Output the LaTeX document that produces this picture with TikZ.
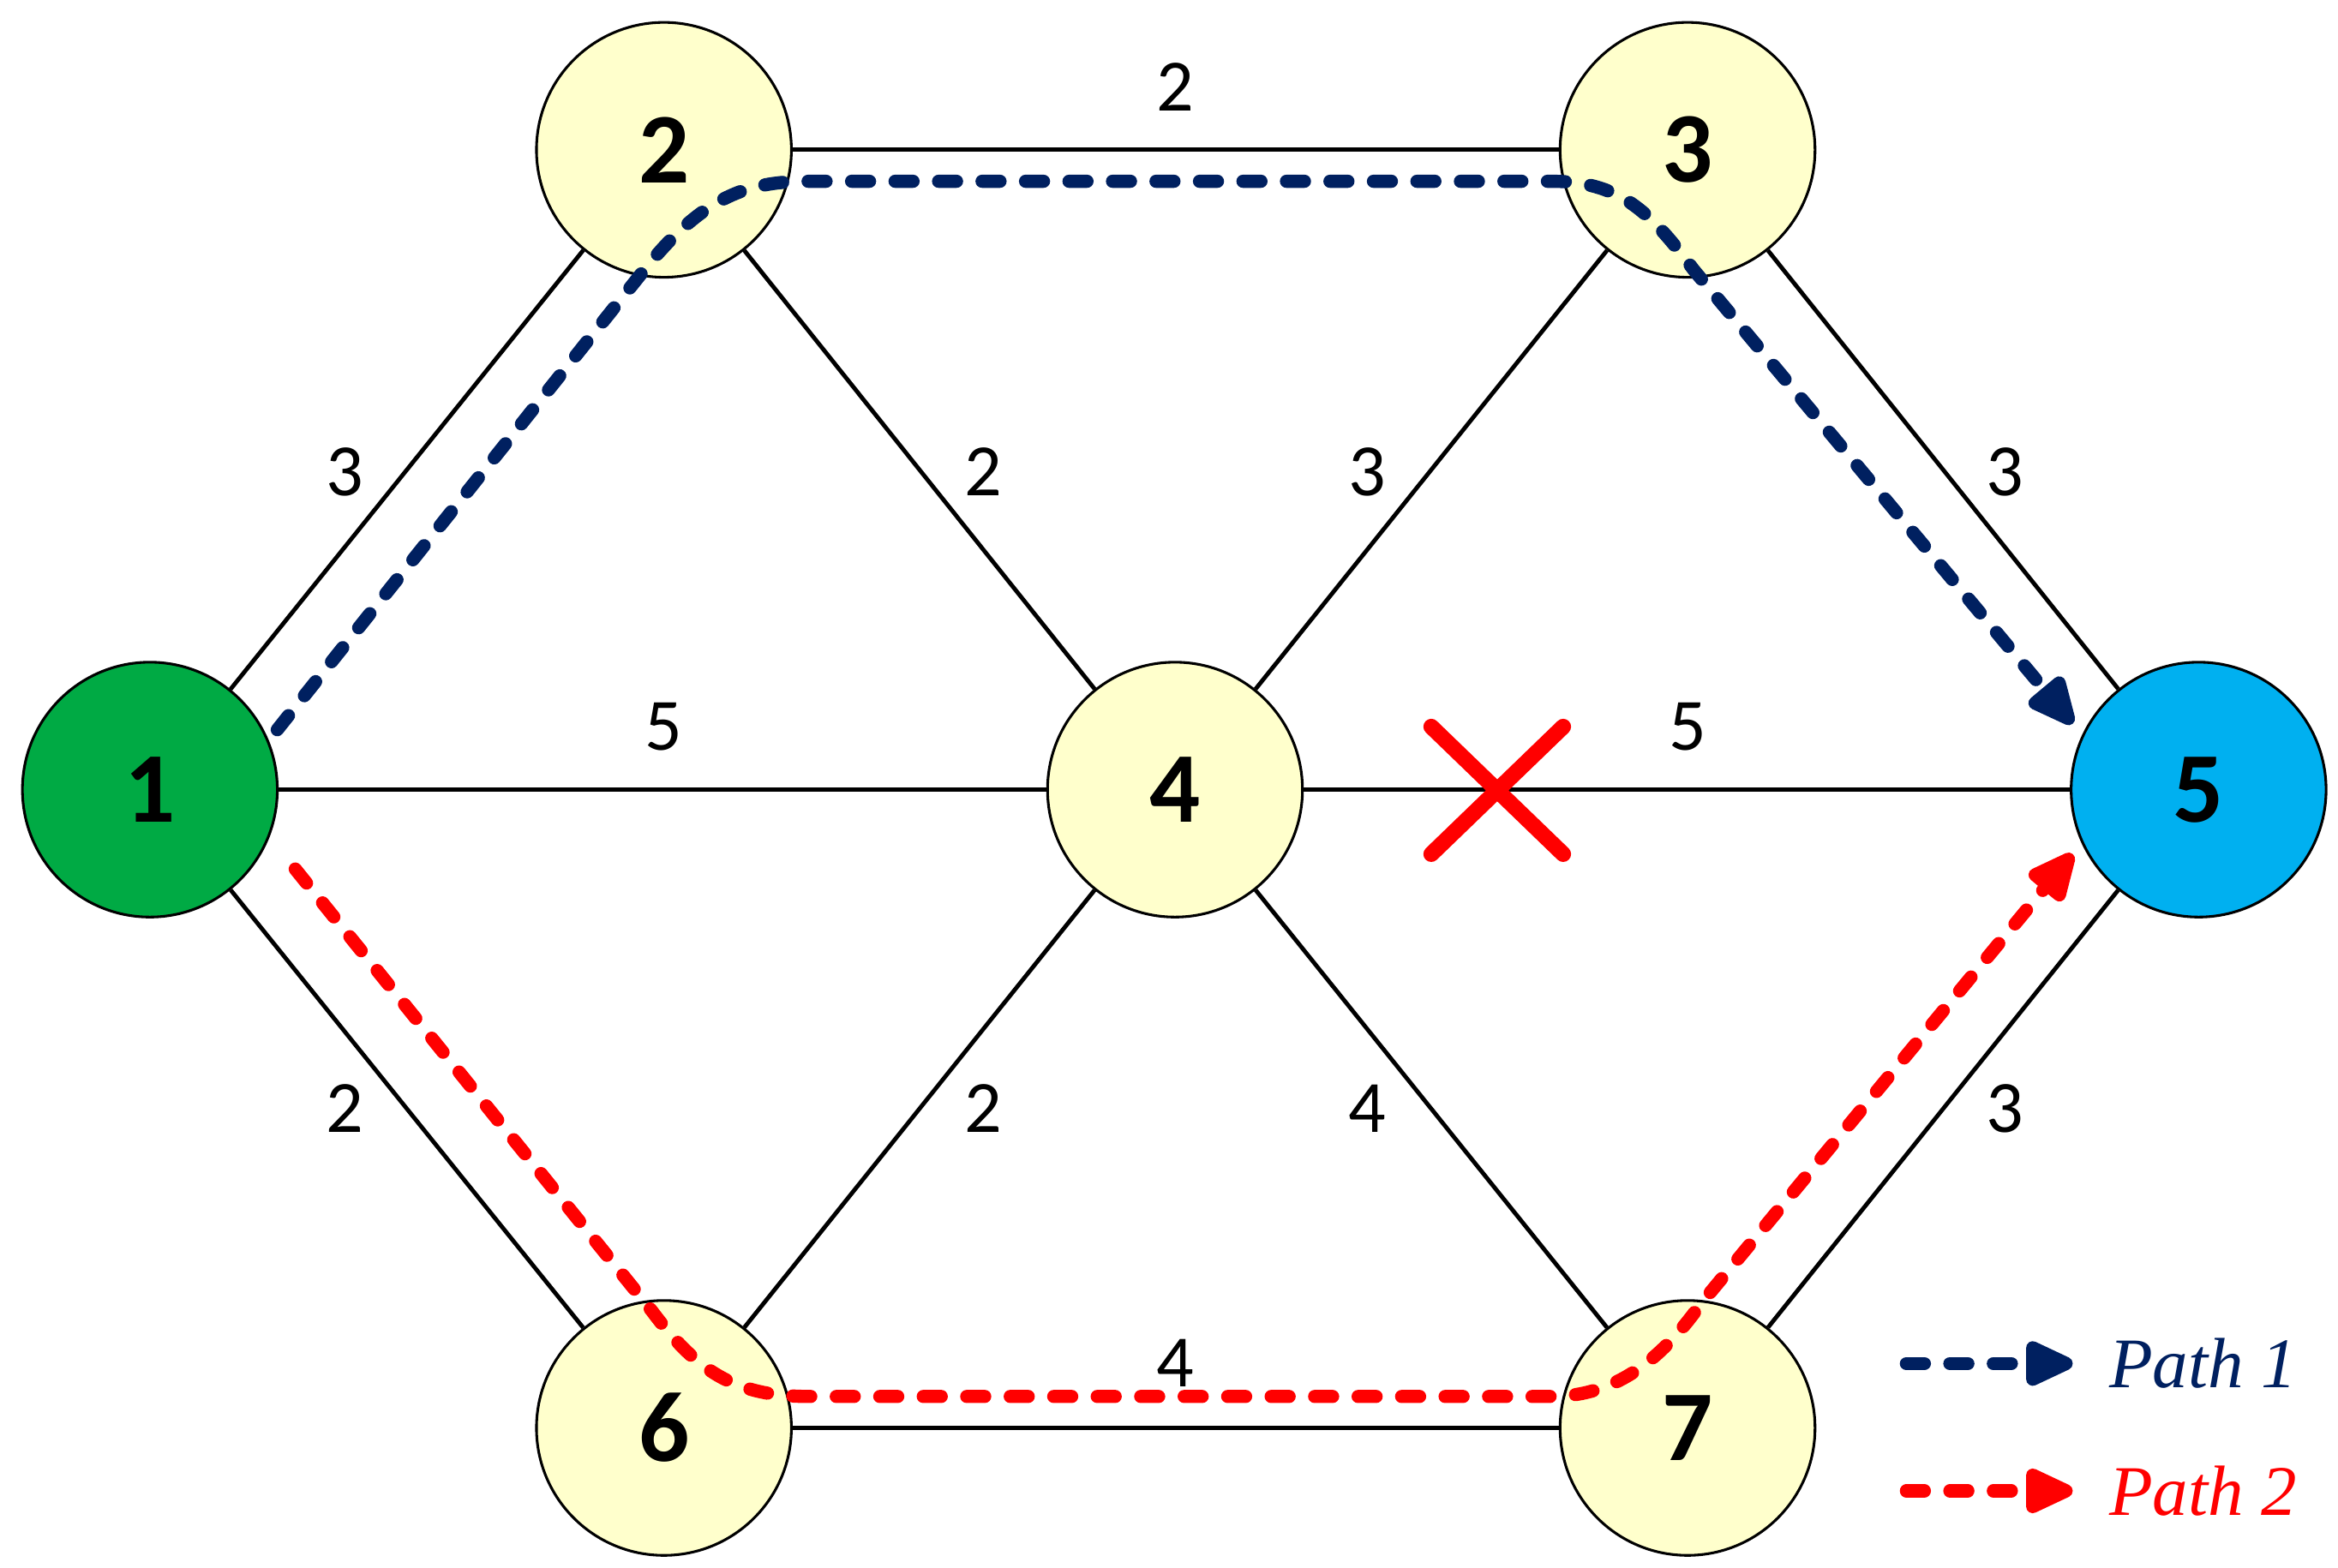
\documentclass[tikz,border=0pt]{standalone}
\usepackage{fontspec}
\setmainfont{Carlito}
\newfontfamily\lserif{Liberation Serif}
\usetikzlibrary{arrows.meta}
\definecolor{navy}{RGB}{0,32,96}
\definecolor{nodey}{RGB}{255,255,204}
\definecolor{ngreen}{RGB}{0,170,68}
\definecolor{nblue}{RGB}{0,176,240}
\begin{document}
\begin{tikzpicture}[x=0.01cm,y=-0.01cm,
  vert/.style={circle,draw=black,line width=0.5pt,minimum size=1.7cm,inner sep=0pt,font=\fontsize{19}{19}\selectfont\bfseries,fill=nodey},
  edge/.style={line width=0.8pt},
  lab/.style={font=\fontsize{14}{14}\selectfont},
  pth/.style={line width=2.5pt,dash pattern=on 0.12cm off 0.17cm,line cap=round,-{Triangle[length=0.38cm,width=0.32cm,round=false,line cap=butt]}}]
\useasboundingbox (0,0) rectangle (1560,1046);
\node[vert,fill=ngreen] (n1) at (100,527) {1};
\node[vert] (n2) at (443,100) {2};
\node[vert] (n3) at (1126,100) {3};
\node[vert] (n4) at (784,527) {4};
\node[vert,fill=nblue] (n5) at (1467,527) {5};
\node[vert] (n6) at (443,953) {6};
\node[vert] (n7) at (1126,953) {7};
\foreach \a/\b in {n1/n2,n1/n4,n1/n6,n2/n3,n2/n4,n3/n4,n3/n5,n4/n5,n4/n6,n4/n7,n5/n7,n6/n7}
  \draw[edge] (\a) -- (\b);
\node[lab] (l23) at (784,58) {2};
\node[lab] (l12) at (230,315) {3};
\node[lab] (l24) at (656,315) {2};
\node[lab] (l34) at (912,315) {3};
\node[lab] (l35) at (1338,315) {3};
\node[lab] (l14) at (443,485) {5};
\node[lab] (l45) at (1126,485) {5};
\node[lab] (l16) at (230,740) {2};
\node[lab] (l46) at (656,740) {2};
\node[lab] (l47) at (912,740) {4};
\node[lab] (l57) at (1338,740) {3};
\node[lab] (l67) at (784,910) {4};
\coordinate (x1) at (955,485); \coordinate (x2) at (1043,570);
\coordinate (x3) at (1043,485); \coordinate (x4) at (955,570);
\draw[red,line width=3pt,line cap=round] (x1) -- (x2) (x3) -- (x4);
\coordinate (p1s) at (185,487); \coordinate (p1e) at (1383,483);
\draw[pth,navy] (p1s) -- (430,180) .. controls (470,130) and (500,121) .. (540,121) -- (1035,121) .. controls (1080,121) and (1100,140) .. (1130,180) -- (p1e);
\coordinate (p2s) at (197,580); \coordinate (p2e) at (1383,570);
\draw[pth,red] (p2s) -- (435,875) .. controls (465,915) and (490,932) .. (540,932) -- (1035,932) .. controls (1080,932) and (1110,905) .. (1135,870) -- (p2e);
\coordinate (g1a) at (1272,910); \coordinate (g1b) at (1383,910);
\coordinate (g2a) at (1272,995); \coordinate (g2b) at (1383,995);
\draw[pth,navy] (g1a) -- (g1b);
\draw[pth,red] (g2a) -- (g2b);
\node[anchor=west,text=navy,font=\lserif\itshape\fontsize{13.5}{13.5}\selectfont] (t1) at (1395,910) {Path 1};
\node[anchor=west,text=red,font=\lserif\itshape\fontsize{13.5}{13.5}\selectfont] (t2) at (1395,995) {Path 2};
\end{tikzpicture}
\end{document}
